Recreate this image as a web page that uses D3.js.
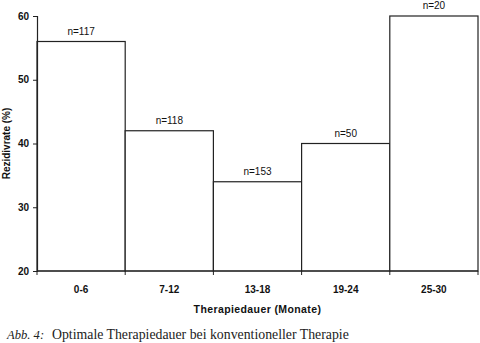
<!DOCTYPE html>
<html>
<head>
<meta charset="utf-8">
<script src="https://cdn.jsdelivr.net/npm/d3@7"></script>
<style>
  html, body { margin: 0; padding: 0; background: #fff; }
  svg { display: block; }
</style>
</head>
<body>
<svg id="chart" width="480" height="343"></svg>
<script>
// Recurrence rate by duration of therapy
const categories = ["0-6", "7-12", "13-18", "19-24", "25-30"];
const rates = [56, 42, 34, 40, 60];
const counts = ["n=117", "n=118", "n=153", "n=50", "n=20"];
const yTicks = [20, 30, 40, 50, 60];

const svg = d3.select("#chart");
const plotL = 37, plotR = 478, plotT = 16, plotB = 271;
const sans = "Arial, 'Liberation Sans', Helvetica, sans-serif";

const x = d3.scaleBand().domain(categories).range([plotL, plotR]).padding(0);
const y = d3.scaleLinear().domain([20, 60]).range([plotB, plotT]);

// bars
svg.append("g").selectAll("rect").data(categories).join("rect")
  .attr("x", d => x(d))
  .attr("y", (d, i) => y(rates[i]))
  .attr("width", x.bandwidth())
  .attr("height", (d, i) => plotB - y(rates[i]))
  .attr("fill", "#fff")
  .attr("stroke", "#222")
  .attr("stroke-width", 1.2);

// count labels above bars
svg.append("g").selectAll("text").data(categories).join("text")
  .attr("x", d => x(d) + x.bandwidth() / 2)
  .attr("y", (d, i) => y(rates[i]) - 7)
  .attr("text-anchor", "middle")
  .attr("font-family", sans)
  .attr("font-size", 10)
  .attr("fill", "#111")
  .text((d, i) => counts[i]);

// y axis
const yAxis = svg.append("g")
  .attr("transform", `translate(${plotL},0)`)
  .call(d3.axisLeft(y).tickValues(yTicks).tickSize(4).tickPadding(4));
yAxis.select(".domain").attr("stroke", "#222").attr("stroke-width", 1.2);
yAxis.selectAll(".tick line").attr("stroke", "#222");
yAxis.selectAll(".tick text")
  .attr("font-family", sans).attr("font-size", 10).attr("font-weight", "bold").attr("fill", "#111");

// x axis: ticks on category boundaries
const xAxis = svg.append("g").attr("transform", `translate(0,${plotB})`);
xAxis.append("line").attr("x1", plotL).attr("x2", plotR).attr("stroke", "#222").attr("stroke-width", 1.2);
const bounds = categories.map(d => x(d)).concat([plotR]);
xAxis.selectAll("line.tk").data(bounds).join("line").attr("class", "tk")
  .attr("x1", d => d).attr("x2", d => d).attr("y1", 0).attr("y2", 4)
  .attr("stroke", "#222");
xAxis.selectAll("text").data(categories).join("text")
  .attr("x", d => x(d) + x.bandwidth() / 2)
  .attr("y", 22)
  .attr("text-anchor", "middle")
  .attr("font-family", sans).attr("font-size", 10).attr("font-weight", "bold").attr("fill", "#111")
  .text(d => d);

// axis titles
svg.append("text")
  .attr("x", (plotL + plotR) / 2).attr("y", 313)
  .attr("text-anchor", "middle")
  .attr("font-family", sans).attr("font-size", 10.5).attr("font-weight", "bold").attr("fill", "#111")
  .attr("letter-spacing", 0.4)
  .text("Therapiedauer (Monate)");

svg.append("text")
  .attr("transform", `translate(10,${(plotT + plotB) / 2}) rotate(-90)`)
  .attr("text-anchor", "middle")
  .attr("font-family", sans).attr("font-size", 10).attr("font-weight", "bold").attr("fill", "#111")
  .text("Rezidivrate (%)");

// figure caption
const cap = svg.append("text")
  .attr("x", 7).attr("y", 339)
  .attr("font-family", "'Liberation Serif', 'DejaVu Serif', serif")
  .attr("font-size", 13.8).attr("fill", "#222");
cap.append("tspan").attr("font-style", "italic").attr("font-size", 12.6).text("Abb. 4:");
cap.append("tspan").attr("x", 52).text("Optimale Therapiedauer bei konventioneller Therapie");
</script>
</body>
</html>
